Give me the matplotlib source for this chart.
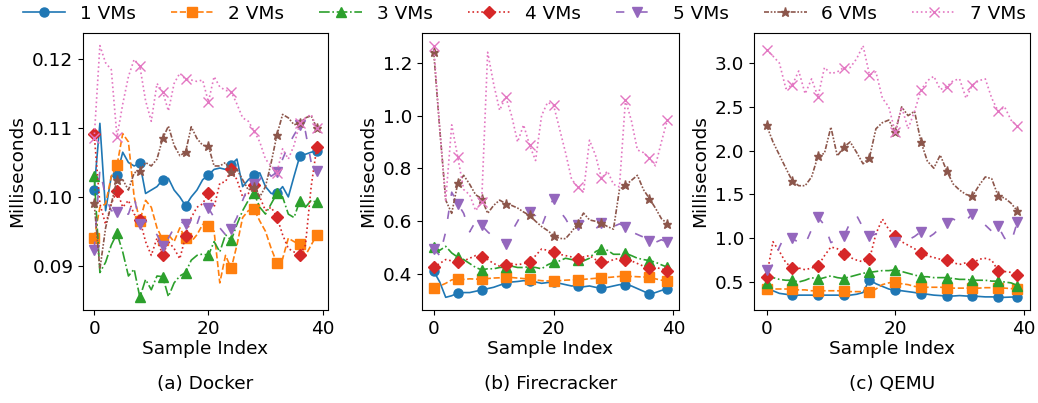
import numpy as np
import matplotlib
matplotlib.use('Agg')
import matplotlib.pyplot as plt

# индексы выборок
idx = np.arange(40)

labels = ['1 VMs', '2 VMs', '3 VMs', '4 VMs', '5 VMs', '6 VMs', '7 VMs']
panels = ['(a) Docker', '(b) Firecracker', '(c) QEMU']

# Docker
d1 = [0.1010, 0.1107, 0.0980, 0.1030, 0.1032, 0.1065, 0.1050, 0.1045, 0.1049, 0.1005,
      0.1010, 0.1015, 0.1025, 0.1027, 0.1010, 0.1000, 0.0987, 0.1000, 0.1010, 0.1025,
      0.1032, 0.1040, 0.1042, 0.1040, 0.1047, 0.1055, 0.1015, 0.1025, 0.1032, 0.1035,
      0.1015, 0.1005, 0.1005, 0.1015, 0.1000, 0.1030, 0.1059, 0.1062, 0.1065, 0.1067]
d2 = [0.0940, 0.0985, 0.0990, 0.1030, 0.1046, 0.1092, 0.1080, 0.1000, 0.0965, 0.0995,
      0.0985, 0.0955, 0.0938, 0.0945, 0.0935, 0.0955, 0.0940, 0.0935, 0.0945, 0.0960,
      0.0958, 0.0950, 0.0875, 0.0915, 0.0896, 0.0930, 0.0970, 0.0980, 0.0982, 0.0965,
      0.0950, 0.0925, 0.0904, 0.0910, 0.0940, 0.0935, 0.0931, 0.0915, 0.0930, 0.0945]
d3 = [0.1031, 0.0890, 0.0905, 0.0930, 0.0947, 0.0920, 0.0885, 0.0895, 0.0854, 0.0880,
      0.0865, 0.0885, 0.0884, 0.0855, 0.0875, 0.0885, 0.0890, 0.0908, 0.0915, 0.0917,
      0.0915, 0.0935, 0.0920, 0.0945, 0.0937, 0.0960, 0.0980, 0.0995, 0.1005, 0.0985,
      0.0975, 0.0990, 0.1005, 0.1000, 0.0975, 0.0970, 0.0994, 0.0985, 0.0995, 0.0992]
d4 = [0.1091, 0.0990, 0.0960, 0.0990, 0.1009, 0.0985, 0.0995, 0.0975, 0.0967, 0.0935,
      0.0915, 0.0940, 0.0915, 0.0935, 0.0925, 0.0910, 0.0943, 0.0970, 0.0985, 0.0990,
      0.1006, 0.0985, 0.1020, 0.1022, 0.1040, 0.1025, 0.1000, 0.1005, 0.1018, 0.1000,
      0.0980, 0.0985, 0.0971, 0.0945, 0.0925, 0.0920, 0.0915, 0.0930, 0.1015, 0.1073]
d5 = [0.0923, 0.1040, 0.1000, 0.0980, 0.0978, 0.0975, 0.0975, 0.1000, 0.0961, 0.0965,
      0.0955, 0.0945, 0.0928, 0.0940, 0.0955, 0.0965, 0.0960, 0.0950, 0.0960, 0.0985,
      0.0984, 0.0970, 0.0955, 0.0945, 0.0954, 0.0970, 0.0995, 0.1015, 0.1019, 0.1025,
      0.1040, 0.1030, 0.1036, 0.1055, 0.1075, 0.1090, 0.1104, 0.1095, 0.1050, 0.1038]
d6 = [0.0991, 0.0895, 0.0955, 0.0990, 0.1025, 0.1025, 0.1010, 0.1035, 0.1038, 0.1050,
      0.1045, 0.1055, 0.1085, 0.1103, 0.1075, 0.1060, 0.1065, 0.1102, 0.1085, 0.1075,
      0.1074, 0.1045, 0.1045, 0.1050, 0.1036, 0.1040, 0.1025, 0.1010, 0.1015, 0.1000,
      0.1015, 0.1050, 0.1090, 0.1120, 0.1115, 0.1105, 0.1107, 0.1115, 0.1118, 0.1100]
d7 = [0.1085, 0.1220, 0.1195, 0.1185, 0.1087, 0.1135, 0.1175, 0.1200, 0.1190, 0.1140,
      0.1110, 0.1165, 0.1153, 0.1125, 0.1165, 0.1180, 0.1171, 0.1170, 0.1168, 0.1170,
      0.1138, 0.1175, 0.1160, 0.1155, 0.1153, 0.1135, 0.1115, 0.1110, 0.1096, 0.1080,
      0.1055, 0.1045, 0.1035, 0.1070, 0.1055, 0.1075, 0.1107, 0.1115, 0.1120, 0.1100]

# Firecracker
f1 = [0.411, 0.370, 0.312, 0.318, 0.328, 0.330, 0.330, 0.335, 0.340, 0.345,
      0.350, 0.358, 0.366, 0.370, 0.372, 0.375, 0.373, 0.370, 0.365, 0.368,
      0.370, 0.365, 0.360, 0.355, 0.356, 0.352, 0.355, 0.350, 0.347, 0.350,
      0.355, 0.360, 0.359, 0.355, 0.345, 0.335, 0.324, 0.330, 0.338, 0.343]
f2 = [0.347, 0.355, 0.365, 0.378, 0.381, 0.380, 0.382, 0.381, 0.381, 0.383,
      0.385, 0.386, 0.388, 0.387, 0.385, 0.383, 0.381, 0.378, 0.375, 0.374,
      0.373, 0.375, 0.377, 0.378, 0.378, 0.380, 0.382, 0.384, 0.385, 0.387,
      0.389, 0.391, 0.392, 0.391, 0.390, 0.389, 0.388, 0.382, 0.377, 0.373]
f3 = [0.502, 0.490, 0.505, 0.480, 0.464, 0.455, 0.440, 0.425, 0.416, 0.420,
      0.420, 0.425, 0.426, 0.430, 0.425, 0.425, 0.428, 0.425, 0.420, 0.435,
      0.445, 0.450, 0.460, 0.455, 0.455, 0.450, 0.460, 0.485, 0.496, 0.490,
      0.475, 0.475, 0.479, 0.470, 0.460, 0.455, 0.451, 0.445, 0.435, 0.426]
f4 = [0.426, 0.440, 0.455, 0.450, 0.445, 0.450, 0.460, 0.470, 0.466, 0.455,
      0.440, 0.430, 0.435, 0.440, 0.435, 0.440, 0.445, 0.470, 0.495, 0.490,
      0.485, 0.475, 0.470, 0.465, 0.458, 0.465, 0.470, 0.455, 0.447, 0.445,
      0.455, 0.460, 0.455, 0.450, 0.440, 0.430, 0.423, 0.425, 0.420, 0.413]
f5 = [0.496, 0.470, 0.560, 0.710, 0.667, 0.630, 0.560, 0.600, 0.584, 0.560,
      0.540, 0.530, 0.515, 0.560, 0.600, 0.640, 0.635, 0.620, 0.580, 0.640,
      0.686, 0.640, 0.610, 0.570, 0.584, 0.600, 0.580, 0.570, 0.593, 0.600,
      0.580, 0.590, 0.580, 0.560, 0.550, 0.540, 0.527, 0.520, 0.530, 0.521]
f6 = [1.240, 0.950, 0.680, 0.630, 0.743, 0.774, 0.740, 0.700, 0.686, 0.630,
      0.660, 0.680, 0.667, 0.660, 0.650, 0.635, 0.622, 0.600, 0.580, 0.565,
      0.546, 0.535, 0.534, 0.560, 0.591, 0.631, 0.605, 0.600, 0.593, 0.580,
      0.570, 0.720, 0.736, 0.755, 0.774, 0.720, 0.686, 0.650, 0.610, 0.591]
f7 = [1.265, 0.950, 0.680, 0.965, 0.844, 0.720, 0.700, 0.640, 0.673, 1.240,
      1.120, 1.020, 1.072, 1.000, 0.900, 0.965, 0.888, 0.830, 1.000, 1.050,
      1.040, 0.950, 0.860, 0.760, 0.730, 0.710, 0.907, 0.850, 0.762, 0.790,
      0.740, 0.730, 1.060, 0.980, 0.870, 0.860, 0.838, 0.810, 0.900, 0.984]

# QEMU
q1 = [0.420, 0.400, 0.370, 0.360, 0.346, 0.350, 0.350, 0.350, 0.346, 0.350,
      0.350, 0.350, 0.346, 0.350, 0.360, 0.380, 0.527, 0.480, 0.450, 0.420,
      0.404, 0.400, 0.390, 0.380, 0.365, 0.360, 0.350, 0.345, 0.338, 0.340,
      0.345, 0.340, 0.338, 0.335, 0.330, 0.330, 0.327, 0.325, 0.328, 0.327]
q2 = [0.420, 0.420, 0.420, 0.420, 0.420, 0.410, 0.410, 0.400, 0.400, 0.400,
      0.400, 0.400, 0.396, 0.390, 0.390, 0.390, 0.385, 0.420, 0.470, 0.490,
      0.500, 0.480, 0.470, 0.450, 0.440, 0.440, 0.440, 0.440, 0.435, 0.430,
      0.430, 0.430, 0.430, 0.430, 0.435, 0.435, 0.435, 0.430, 0.425, 0.420]
q3 = [0.490, 0.550, 0.530, 0.520, 0.520, 0.500, 0.520, 0.550, 0.530, 0.550,
      0.570, 0.550, 0.540, 0.560, 0.580, 0.600, 0.610, 0.620, 0.630, 0.630,
      0.640, 0.620, 0.600, 0.580, 0.560, 0.560, 0.550, 0.550, 0.550, 0.540,
      0.530, 0.530, 0.520, 0.520, 0.520, 0.510, 0.510, 0.500, 0.490, 0.460]
q4 = [0.560, 0.960, 0.850, 0.720, 0.665, 0.660, 0.640, 0.660, 0.685, 0.800,
      0.900, 0.880, 0.820, 0.780, 0.750, 0.730, 0.760, 1.050, 1.220, 1.100,
      1.027, 0.960, 0.920, 0.880, 0.835, 0.800, 0.780, 0.760, 0.750, 0.720,
      0.700, 0.720, 0.710, 0.760, 0.770, 0.750, 0.627, 0.620, 0.610, 0.585]
q5 = [0.635, 0.700, 0.900, 1.050, 1.000, 0.950, 0.930, 1.100, 1.240, 1.150,
      0.950, 0.990, 1.020, 1.180, 1.260, 1.120, 1.020, 1.050, 1.050, 1.000,
      0.960, 1.000, 0.980, 1.020, 1.075, 1.000, 1.050, 1.120, 1.170, 1.220,
      1.180, 1.200, 1.280, 1.220, 1.150, 1.080, 1.135, 1.000, 0.950, 1.190]
q6 = [2.290, 2.100, 1.950, 1.800, 1.654, 1.600, 1.600, 1.700, 1.940, 1.970,
      2.270, 1.940, 2.040, 2.100, 1.980, 1.850, 1.920, 2.250, 2.320, 2.350,
      2.210, 2.500, 2.400, 2.450, 2.100, 1.880, 1.800, 1.950, 1.770, 1.620,
      1.550, 1.500, 1.480, 1.600, 1.700, 1.680, 1.480, 1.460, 1.400, 1.310]
q7 = [3.154, 3.080, 3.000, 2.710, 2.750, 2.910, 2.650, 2.820, 2.615, 2.950,
      2.880, 2.900, 2.950, 2.950, 3.050, 3.200, 2.865, 2.900, 2.600, 2.500,
      2.210, 2.500, 2.250, 2.450, 2.690, 2.800, 2.850, 2.700, 2.730, 2.800,
      2.820, 2.600, 2.750, 2.800, 2.820, 2.600, 2.450, 2.500, 2.350, 2.280]

docker = [d1, d2, d3, d4, d5, d6, d7]
firecracker = [f1, f2, f3, f4, f5, f6, f7]
qemu = [q1, q2, q3, q4, q5, q6, q7]

styles = [('o', '-'), ('s', '--'), ('^', '-.'), ('D', ':'),
          ('v', (0, (5, 9))), ('*', (0, (3, 1, 1, 1, 1, 1))), ('x', ':')]
colors = ['tab:blue', 'tab:orange', 'tab:green', 'tab:red',
          'tab:purple', 'tab:brown', 'tab:pink']
marks = list(range(0, 40, 4)) + [39]

fig = plt.figure(figsize=(10.38, 4.03), dpi=100)
boxes = [[0.080, 0.231, 0.236, 0.687],
         [0.4066, 0.231, 0.2476, 0.687],
         [0.7264, 0.231, 0.2659, 0.687]]

fs = 13.3
for box, data, title in zip(boxes, [docker, firecracker, qemu], panels):
    ax = fig.add_axes(box)
    for vals, (m, ls), c, lab in zip(data, styles, colors, labels):
        ax.plot(idx, vals, marker=m, linestyle=ls, color=c, label=lab,
                linewidth=1.2, markersize=6.5, markevery=marks)
    ax.set_xticks([0, 20, 40])
    ax.set_xlabel('Sample Index', fontsize=fs, labelpad=2)
    ax.set_ylabel('Milliseconds', fontsize=fs)
    ax.tick_params(labelsize=fs)
    fig.text(box[0] + box[2] / 2, 0.035, title, ha='center', fontsize=fs)

handles, labs = ax.get_legend_handles_labels()
fig.legend(handles, labs, loc='upper center', bbox_to_anchor=(0.505, 1.03),
           ncol=7, frameon=False, fontsize=fs, handlelength=2.3,
           handletextpad=0.8, columnspacing=1.9)

fig.savefig('out.png', dpi=100)
